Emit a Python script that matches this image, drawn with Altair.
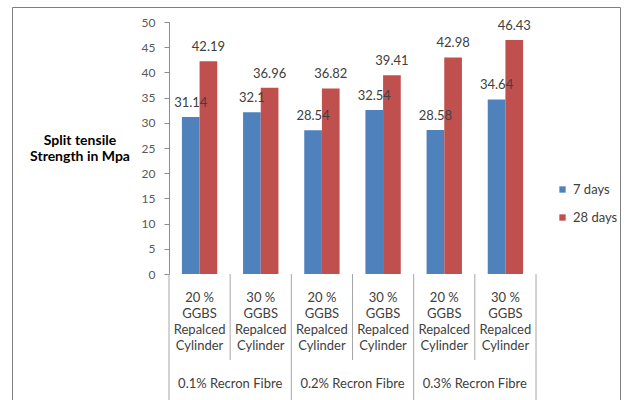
import altair as alt
import pandas as pd

# ---- data ----
keys = ["A1", "A2", "B1", "B2", "C1", "C2"]
cat_labels = [
    "20 %|GGBS|Repalced|Cylinder",
    "30 %|GGBS|Repalced|Cylinder",
    "20 %|GGBS|Repalced|Cylinder",
    "30 %|GGBS|Repalced|Cylinder",
    "20 %|GGBS|Repalced|Cylinder",
    "30 %|GGBS|Repalced|Cylinder",
]
group_keys = ["A2", "B2", "C2"]
group_labels = ["0.1% Recron Fibre", "0.2%  Recron Fibre", "0.3%  Recron Fibre"]
series = ["7 days", "28 days"]
days7 = [31.14, 32.1, 28.54, 32.54, 28.58, 34.64]
days28 = [42.19, 36.96, 36.82, 39.41, 42.98, 46.43]
colors = ["#4F81BD", "#C0504D"]
y_ticks = list(range(0, 51, 5))

rows = []
for s, vals in zip(series, [days7, days28]):
    for k, v in zip(keys, vals):
        rows.append({"key": k, "series": s, "value": v, "label": str(v)})
df = pd.DataFrame(rows)
cats = pd.DataFrame({"key": keys, "label": cat_labels})
groups = pd.DataFrame({"key": group_keys, "label": group_labels})

W, H = 367, 252
LEFT, TOP = 169, 22
FONT = "Lato"

xs = alt.Scale(domain=keys, paddingInner=0, paddingOuter=0)
xo = alt.Scale(domain=series, paddingInner=0, paddingOuter=0.73)
ys = alt.Scale(domain=[0, 50], nice=False)

yaxis = alt.Axis(values=y_ticks, grid=False, tickSize=5, labelPadding=9,
                 domainColor="#8c8c8c", tickColor="#8c8c8c", labelOverlap=False,
                 labelColor="#595959", labelFontSize=12, labelFont=FONT,
                 title=None)

base = alt.Chart(df)

bars = base.mark_bar().encode(
    x=alt.X("key:N", scale=xs, sort=keys,
            axis=alt.Axis(labels=False, ticks=False, title=None,
                          domainColor="#8c8c8c")),
    xOffset=alt.XOffset("series:N", scale=xo, sort=series),
    y=alt.Y("value:Q", scale=ys, axis=yaxis),
    color=alt.Color("series:N", sort=series,
                    scale=alt.Scale(domain=series, range=colors),
                    legend=alt.Legend(title=None, orient="none", legendX=387, legendY=161,
                                      symbolType="square", symbolSize=40,
                                      symbolStrokeWidth=0,
                                      labelFont=FONT, labelFontSize=13,
                                      labelColor="#404040", rowPadding=14,
                                      labelOffset=4)),
)

values_txt = base.mark_text(baseline="alphabetic", dy=-10, fontSize=13,
                            font=FONT, color="#404040").encode(
    x=alt.X("key:N", scale=xs, sort=keys, axis=None),
    xOffset=alt.XOffset("series:N", scale=xo, sort=series),
    y=alt.Y("value:Q", scale=ys, axis=yaxis),
    text="label:N",
)

cat_txt = alt.Chart(cats).mark_text(lineBreak="|", baseline="middle", fontSize=13,
                                    lineHeight=16, font=FONT, color="#404040").encode(
    x=alt.X("key:N", scale=xs, sort=keys),
    y=alt.value(298 - TOP),
    text="label:N",
)

grp_txt = alt.Chart(groups).mark_text(baseline="middle", fontSize=13, font=FONT,
                                      color="#404040").encode(
    x=alt.X("key:N", scale=xs, sort=keys, bandPosition=0),
    y=alt.value(384 - TOP),
    text="label:N",
)

sep_long = alt.Chart(pd.DataFrame({"key": ["A1", "B1", "C1"]})).mark_rule(
    color="#a6a6a6", strokeWidth=1).encode(
    x=alt.X("key:N", scale=xs, sort=keys, bandPosition=0),
    y=alt.value(H), y2=alt.value(400 - TOP),
)
sep_end = alt.Chart(pd.DataFrame({"key": ["C2"]})).mark_rule(
    color="#a6a6a6", strokeWidth=1).encode(
    x=alt.X("key:N", scale=xs, sort=keys, bandPosition=1),
    y=alt.value(H), y2=alt.value(400 - TOP),
)
sep_short = alt.Chart(pd.DataFrame({"key": ["A2", "B2", "C2"]})).mark_rule(
    color="#a6a6a6", strokeWidth=1).encode(
    x=alt.X("key:N", scale=xs, sort=keys, bandPosition=0),
    y=alt.value(H), y2=alt.value(360 - TOP),
)

ytitle = alt.Chart(pd.DataFrame({"t": ["Split tensile|Strength in Mpa"]})).mark_text(
    lineBreak="|", baseline="middle", fontSize=14, fontWeight="bold", lineHeight=16,
    font=FONT, color="#000000").encode(
    x=alt.value(80 - LEFT), y=alt.value(141 - TOP), text="t:N",
)

frame = alt.Chart(pd.DataFrame({"f": [0]})).mark_rect(
    fillOpacity=0, stroke="#7f7f7f", strokeWidth=1).encode(
    x=alt.value(12.5 - LEFT), x2=alt.value(620.5 - LEFT),
    y=alt.value(7.5 - TOP), y2=alt.value(430 - TOP),
)

chart = alt.layer(frame, sep_long, sep_end, sep_short, bars, values_txt, cat_txt,
                  grp_txt, ytitle).properties(
    width=W, height=H,
    autosize=alt.AutoSizeParams(type="none"),
    padding={"left": LEFT, "top": TOP, "right": 629 - LEFT - W, "bottom": 400 - TOP - H},
    background="white",
).configure_view(stroke=None)

chart.save("out.html", embed_options={"renderer": "svg", "actions": False})
